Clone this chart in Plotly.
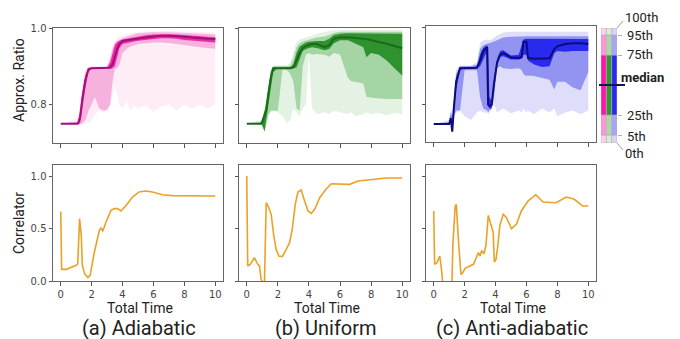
import plotly.graph_objects as go

# ---------------- data ----------------
# (a) Adiabatic percentiles of approximation ratio
T_A = [0, 1.1, 1.25, 1.4, 1.6, 1.8, 2.0, 2.2, 2.5, 2.8, 3.0, 3.2, 3.35, 3.5, 3.65, 3.8, 4.0, 4.25, 4.5, 4.75,
       5.0, 5.5, 6.0, 6.5, 7.0, 7.5, 8.0, 8.5, 9.0, 9.5, 10.0]
A_P0 = [0.75, 0.75, 0.75, 0.75, 0.75, 0.752, 0.76, 0.775, 0.785, 0.78, 0.79, 0.8, 0.82, 0.85, 0.83, 0.80, 0.79,
        0.81, 0.785, 0.80, 0.79, 0.80, 0.78, 0.795, 0.80, 0.785, 0.80, 0.79, 0.80, 0.79, 0.80]
A_P5 = [0.75, 0.75, 0.75, 0.75, 0.76, 0.785, 0.80, 0.82, 0.79, 0.784, 0.786, 0.8, 0.86, 0.893, 0.895, 0.905,
        0.935, 0.945, 0.952, 0.955, 0.958, 0.96, 0.962, 0.962, 0.961, 0.958, 0.955, 0.952, 0.95, 0.948, 0.946]
A_P25 = [0.75, 0.75, 0.75, 0.79, 0.845, 0.885, 0.894, 0.895, 0.895, 0.895, 0.895, 0.895, 0.895, 0.9, 0.925,
         0.948, 0.958, 0.961, 0.963, 0.965, 0.967, 0.969, 0.972, 0.973, 0.973, 0.972, 0.969, 0.967, 0.965, 0.963, 0.962]
A_P50 = [0.75, 0.75, 0.765, 0.815, 0.865, 0.893, 0.895, 0.895, 0.895, 0.895, 0.895, 0.896, 0.905, 0.925, 0.945,
         0.958, 0.966, 0.968, 0.969, 0.970, 0.972, 0.975, 0.978, 0.980, 0.980, 0.979, 0.977, 0.975, 0.973, 0.972, 0.971]
A_P75 = [0.75, 0.752, 0.78, 0.83, 0.877, 0.895, 0.896, 0.896, 0.896, 0.896, 0.897, 0.91, 0.935, 0.955, 0.963,
         0.967, 0.97, 0.972, 0.974, 0.976, 0.978, 0.981, 0.983, 0.984, 0.984, 0.983, 0.981, 0.979, 0.978, 0.977, 0.976]
A_P95 = [0.75, 0.756, 0.79, 0.84, 0.885, 0.897, 0.898, 0.898, 0.898, 0.898, 0.9, 0.92, 0.945, 0.96, 0.966, 0.97,
         0.974, 0.977, 0.981, 0.984, 0.986, 0.988, 0.989, 0.989, 0.989, 0.988, 0.987, 0.986, 0.985, 0.984, 0.983]
A_P100 = [0.75, 0.765, 0.805, 0.85, 0.89, 0.898, 0.9, 0.9, 0.9, 0.9, 0.905, 0.93, 0.955, 0.968, 0.974, 0.978,
          0.981, 0.984, 0.987, 0.989, 0.99, 0.991, 0.992, 0.992, 0.992, 0.991, 0.99, 0.99, 0.989, 0.988, 0.988]

# (b) Uniform
T_B = [0, 0.9, 1.0, 1.1, 1.15, 1.25, 1.4, 1.55, 1.7, 2.0, 2.3, 2.6, 2.8, 3.0, 3.2, 3.4, 3.6, 3.8, 4.0, 4.2, 4.5,
       5.0, 5.3, 5.6, 6.0, 6.5, 6.7, 7.0, 7.5, 7.7, 8.0, 8.5, 9.0, 9.5, 10.0]
B_P0 = [0.75, 0.75, 0.745, 0.735, 0.73, 0.745, 0.77, 0.78, 0.784, 0.78, 0.77, 0.75, 0.76, 0.79, 0.78, 0.77, 0.79,
        0.8, 0.93, 0.79, 0.775, 0.78, 0.775, 0.785, 0.78, 0.775, 0.78, 0.77, 0.775, 0.78, 0.775, 0.778, 0.772,
        0.778, 0.775]
B_P5 = [0.75, 0.75, 0.745, 0.735, 0.73, 0.75, 0.775, 0.784, 0.784, 0.784, 0.893, 0.89, 0.88, 0.86, 0.79, 0.784,
        0.9, 0.93, 0.935, 0.93, 0.932, 0.93, 0.925, 0.935, 0.93, 0.87, 0.862, 0.86, 0.855, 0.82, 0.818, 0.816,
        0.815, 0.815, 0.815]
B_P25 = [0.75, 0.75, 0.745, 0.735, 0.73, 0.76, 0.8, 0.845, 0.885, 0.895, 0.895, 0.895, 0.895, 0.895, 0.897,
         0.92, 0.94, 0.945, 0.948, 0.95, 0.948, 0.942, 0.945, 0.96, 0.968, 0.968, 0.965, 0.96, 0.95, 0.924, 0.935,
         0.93, 0.915, 0.895, 0.876]
B_P50 = [0.75, 0.75, 0.755, 0.765, 0.77, 0.785, 0.83, 0.87, 0.895, 0.895, 0.895, 0.895, 0.895, 0.897, 0.915,
         0.935, 0.947, 0.953, 0.956, 0.958, 0.958, 0.95, 0.955, 0.972, 0.976, 0.976, 0.975, 0.974, 0.972, 0.971,
         0.968, 0.964, 0.959, 0.953, 0.947]
B_P75 = [0.75, 0.752, 0.76, 0.775, 0.78, 0.8, 0.845, 0.885, 0.897, 0.897, 0.897, 0.897, 0.898, 0.905, 0.935,
         0.952, 0.958, 0.962, 0.964, 0.965, 0.966, 0.966, 0.972, 0.982, 0.985, 0.986, 0.986, 0.986, 0.986, 0.986,
         0.986, 0.985, 0.985, 0.985, 0.985]
B_P95 = [0.75, 0.755, 0.765, 0.78, 0.785, 0.81, 0.855, 0.89, 0.9, 0.9, 0.9, 0.9, 0.902, 0.92, 0.95, 0.96, 0.965,
         0.968, 0.97, 0.972, 0.975, 0.978, 0.982, 0.987, 0.99, 0.99, 0.99, 0.99, 0.99, 0.99, 0.99, 0.99, 0.99,
         0.99, 0.99]
B_P100 = [0.75, 0.76, 0.77, 0.785, 0.79, 0.82, 0.865, 0.895, 0.903, 0.903, 0.903, 0.903, 0.91, 0.94, 0.965, 0.97,
          0.972, 0.975, 0.978, 0.98, 0.985, 0.99, 0.992, 0.994, 0.995, 0.995, 0.995, 0.995, 0.995, 0.995, 0.995,
          0.995, 0.995, 0.995, 0.995]

# (c) Anti-adiabatic
T_C = [0, 1.0, 1.1, 1.2, 1.3, 1.45, 1.7, 2.0, 2.4, 2.8, 3.0, 3.2, 3.45, 3.52, 3.6, 3.75, 3.9, 4.1, 4.3, 4.5,
       5.0, 5.5, 5.7, 5.8, 6.0, 6.1, 6.5, 7.0, 7.5, 7.8, 8.0, 8.5, 9.0, 9.5, 10.0]
C_P0 = [0.75, 0.75, 0.75, 0.73, 0.765, 0.78, 0.784, 0.77, 0.76, 0.78, 0.785, 0.78, 0.78, 0.775, 0.78, 0.79, 0.8,
        0.78, 0.785, 0.79, 0.778, 0.785, 0.78, 0.79, 0.78, 0.785, 0.775, 0.79, 0.78, 0.79, 0.77, 0.78, 0.785,
        0.775, 0.785]
C_P5 = [0.75, 0.75, 0.75, 0.73, 0.77, 0.785, 0.785, 0.89, 0.89, 0.89, 0.82, 0.79, 0.785, 0.78, 0.785, 0.79,
        0.82, 0.895, 0.9, 0.895, 0.893, 0.895, 0.89, 0.88, 0.875, 0.876, 0.875, 0.87, 0.865, 0.84, 0.86, 0.86,
        0.845, 0.838, 0.885]
C_P25 = [0.75, 0.75, 0.76, 0.73, 0.78, 0.84, 0.89, 0.895, 0.895, 0.895, 0.9, 0.92, 0.94, 0.797, 0.79, 0.79,
         0.845, 0.905, 0.925, 0.926, 0.918, 0.918, 0.92, 0.93, 0.93, 0.915, 0.905, 0.898, 0.9, 0.935, 0.94,
         0.938, 0.94, 0.94, 0.94]
C_P50 = [0.75, 0.75, 0.765, 0.73, 0.79, 0.86, 0.895, 0.895, 0.895, 0.896, 0.915, 0.94, 0.95, 0.80, 0.797, 0.80,
         0.855, 0.91, 0.93, 0.935, 0.923, 0.922, 0.925, 0.964, 0.964, 0.922, 0.92, 0.92, 0.921, 0.945, 0.952,
         0.958, 0.96, 0.96, 0.958]
C_P75 = [0.75, 0.752, 0.77, 0.75, 0.8, 0.87, 0.896, 0.896, 0.896, 0.9, 0.93, 0.948, 0.955, 0.95, 0.82, 0.81,
         0.87, 0.92, 0.94, 0.942, 0.928, 0.93, 0.96, 0.97, 0.972, 0.972, 0.972, 0.972, 0.972, 0.972, 0.972, 0.972,
         0.971, 0.971, 0.971]
C_P95 = [0.75, 0.755, 0.78, 0.77, 0.81, 0.88, 0.9, 0.9, 0.9, 0.905, 0.945, 0.955, 0.96, 0.96, 0.96, 0.962, 0.965,
         0.968, 0.972, 0.975, 0.977, 0.978, 0.978, 0.978, 0.978, 0.978, 0.978, 0.978, 0.978, 0.978, 0.978, 0.978,
         0.978, 0.978, 0.978]
C_P100 = [0.75, 0.76, 0.785, 0.78, 0.82, 0.89, 0.902, 0.902, 0.902, 0.91, 0.96, 0.968, 0.97, 0.97, 0.968, 0.97,
          0.975, 0.98, 0.985, 0.988, 0.99, 0.99, 0.99, 0.99, 0.99, 0.99, 0.99, 0.99, 0.99, 0.99, 0.99, 0.99, 0.99,
          0.99, 0.99]

# Correlator curves
CT_A = [0, 0.06, 0.36, 1.0, 1.1, 1.22, 1.33, 1.4, 1.54, 1.76, 1.9, 2.18, 2.5, 2.61, 2.72, 2.93, 3.25, 3.47, 3.68,
        3.9, 4.2, 4.65, 5.07, 5.5, 5.93, 6.57, 7.2, 8.5, 10.0]
CV_A = [0.663, 0.111, 0.111, 0.149, 0.165, 0.594, 0.435, 0.149, 0.07, 0.032, 0.054, 0.276, 0.483, 0.505, 0.473,
        0.562, 0.673, 0.689, 0.689, 0.667, 0.714, 0.8, 0.848, 0.857, 0.848, 0.822, 0.813, 0.81, 0.81]
CT_B = [0, 0.06, 0.22, 0.49, 0.71, 0.82, 0.92, 1.03, 1.14, 1.25, 1.42, 1.57, 1.74, 1.89, 2.06, 2.28, 2.49, 2.75,
        2.92, 3.12, 3.29, 3.5, 3.72, 3.94, 4.15, 4.37, 4.69, 5.12, 5.44, 5.76, 6.19, 6.62, 7.16, 8.13, 8.99, 10.0]
CV_B = [1.0, 0.143, 0.159, 0.222, 0.159, 0.143, 0.016, -0.01, -0.01, 0.746, 0.698, 0.635, 0.43, 0.30, 0.238,
        0.232, 0.286, 0.365, 0.49, 0.73, 0.848, 0.867, 0.762, 0.667, 0.644, 0.683, 0.794, 0.879, 0.927, 0.927,
        0.921, 0.921, 0.952, 0.968, 0.981, 0.981]
CT_C = [0, 0.06, 0.21, 0.39, 0.49, 0.58, 1.18, 1.24, 1.39, 1.46, 1.61, 1.76, 1.88, 2.03, 2.57, 2.78, 2.89, 3.0,
        3.1, 3.25, 3.38, 3.53, 3.64, 3.79, 3.85, 3.92, 4.03, 4.15, 4.28, 4.5, 4.71, 5.03, 5.35, 5.67, 6.1, 6.6,
        7.07, 7.92, 8.57, 9.1, 9.64, 10.0]
CV_C = [0.667, 0.159, 0.175, 0.238, 0.127, -0.01, -0.01, 0.349, 0.714, 0.73, 0.365, 0.063, 0.079, 0.121, 0.159,
        0.238, 0.27, 0.238, 0.29, 0.26, 0.34, 0.625, 0.571, 0.483, 0.46, 0.181, 0.206, 0.34, 0.53, 0.635, 0.603,
        0.498, 0.54, 0.667, 0.762, 0.822, 0.752, 0.746, 0.8, 0.778, 0.714, 0.714]

PANEL_TITLES = ["(a) Adiabatic", "(b) Uniform", "(c) Anti-adiabatic"]
LEGEND_LABELS = ["100th", "95th", "75th", "median", "25th", "5th", "0th"]
LEGEND_SEG = [8, 20, 60, 20, 7]          # bottom-to-top segment heights of the key

# ---------------- styling ----------------
W, H = 680, 339
def px(x): return x / W
def py(y): return 1 - y / H

COLS = [
    dict(light="#feecf7", mid="#f7b1dd", dark="#ec2aa6", med="#a1107c",
         k_light="#fbd3ec", k_mid="#ff96d6", k_dark="#ff14ae"),
    dict(light="#e4f2e4", mid="#a5d5a5", dark="#2e922e", med="#1b6a1b",
         k_light="#d8ecd8", k_mid="#acd8ac", k_dark="#2f952f"),
    dict(light="#dedefa", mid="#9393f1", dark="#2a2aee", med="#0c0c7a",
         k_light="#d6d6f8", k_mid="#a6a6f5", k_dark="#2a2aee"),
]
ORANGE = "#e9a227"
XD = [(53, 223), (239, 410), (426, 596)]
TOP = [py(143), py(28)]
TOP_C = [py(142), py(26)]
BOT = [py(281), py(165)]

fig = go.Figure()

def band(xa, ya, t, lo, hi, color):
    fig.add_trace(go.Scatter(x=t, y=lo, mode="lines", line=dict(width=0), xaxis=xa, yaxis=ya,
                             showlegend=False, hoverinfo="skip"))
    fig.add_trace(go.Scatter(x=t, y=hi, mode="lines", line=dict(width=0), fill="tonexty",
                             fillcolor=color, xaxis=xa, yaxis=ya, showlegend=False, hoverinfo="skip"))

panels = [
    (T_A, A_P0, A_P5, A_P25, A_P50, A_P75, A_P95, A_P100),
    (T_B, B_P0, B_P5, B_P25, B_P50, B_P75, B_P95, B_P100),
    (T_C, C_P0, C_P5, C_P25, C_P50, C_P75, C_P95, C_P100),
]
for i, (t, p0, p5, p25, p50, p75, p95, p100) in enumerate(panels):
    xa, ya = f"x{i+1}", f"y{i+1}"
    c = COLS[i]
    band(xa, ya, t, p0, p100, c["light"])
    band(xa, ya, t, p5, p95, c["mid"])
    band(xa, ya, t, p25, p75, c["dark"])
    fig.add_trace(go.Scatter(x=t, y=p50, mode="lines", line=dict(color=c["med"], width=2),
                             xaxis=xa, yaxis=ya, showlegend=False))

for i, (t, v) in enumerate([(CT_A, CV_A), (CT_B, CV_B), (CT_C, CV_C)]):
    fig.add_trace(go.Scatter(x=t, y=v, mode="lines", line=dict(color=ORANGE, width=1.6),
                             xaxis=f"x{i+4}", yaxis=f"y{i+4}", showlegend=False))

# key (colour bar) built from stacked bars
base = 0
for j, h in enumerate(LEGEND_SEG):
    kind = ["k_light", "k_mid", "k_dark", "k_mid", "k_light"][j]
    fig.add_trace(go.Bar(x=[0, 1, 2], y=[h] * 3, base=[base] * 3, width=1,
                         marker=dict(color=[COLS[k][kind] for k in range(3)],
                                     line=dict(color="#b0b0b0", width=0.6)),
                         xaxis="x7", yaxis="y7", showlegend=False, hoverinfo="skip"))
    base += h

tickfont = dict(family="DejaVu Sans", size=10, color="#444")
ax_common = dict(showline=True, mirror=True, linecolor="#666", linewidth=1, ticks="outside",
                 ticklen=3.5, tickwidth=0.8, tickcolor="#555", showgrid=False, zeroline=False,
                 tickfont=tickfont, automargin=False)
layout = dict(width=W, height=H, margin=dict(l=0, r=0, t=0, b=0, pad=0, autoexpand=False),
              plot_bgcolor="white", paper_bgcolor="white", barmode="overlay", showlegend=False,
              font=dict(family="Roboto", color="#222"))
for i in range(3):
    dom = [px(XD[i][0]), px(XD[i][1])]
    # top row
    layout[f"xaxis{i+1}"] = dict(ax_common, domain=dom, anchor=f"y{i+1}", range=[-0.5, 10.5],
                                 tickvals=[0, 2, 4, 6, 8, 10], showticklabels=False)
    layout[f"yaxis{i+1}"] = dict(ax_common, domain=(TOP_C if i == 2 else TOP), anchor=f"x{i+1}",
                                 range=([0.703, 1.005] if i == 2 else [0.7, 1.0]),
                                 tickvals=[0.8, 1.0], ticktext=["0.8", "1.0"], showticklabels=(i == 0))
    # bottom row
    layout[f"xaxis{i+4}"] = dict(ax_common, domain=dom, anchor=f"y{i+4}", range=[-0.5, 10.5],
                                 tickvals=[0, 2, 4, 6, 8, 10])
    layout[f"yaxis{i+4}"] = dict(ax_common, domain=BOT, anchor=f"x{i+4}", range=[0, 1.105],
                                 tickvals=[0, 0.5, 1.0], ticktext=["0.0", "0.5", "1.0"],
                                 showticklabels=(i == 0))
layout["xaxis7"] = dict(domain=[px(601), px(617)], anchor="y7", range=[-0.5, 2.5], visible=False)
layout["yaxis7"] = dict(domain=TOP, anchor="x7", range=[0, sum(LEGEND_SEG)], side="right",
                        showline=False, showgrid=False, zeroline=False, ticks="outside", ticklen=4,
                        tickcolor="#b0b0b0", tickvals=[8, 28, 88, 108], showticklabels=False,
                        automargin=False)

ann = []
ann.append(dict(text="Approx. Ratio", x=px(19), y=py(80), textangle=-90, font=dict(size=14)))
ann.append(dict(text="Correlator", x=px(19), y=py(223), textangle=-90, font=dict(size=14)))
for i in range(3):
    cx = (XD[i][0] + XD[i][1]) / 2 + 2
    ann.append(dict(text="Total Time", x=px(cx), y=py(308), font=dict(size=14)))
    ann.append(dict(text=PANEL_TITLES[i], x=px(cx - 1), y=py(328), font=dict(size=20)))
leg_pos = [(623, 18), (625, 36), (625, 55), (619, 77), (625, 116), (625, 136), (623, 153)]
for lab, (lx, ly) in zip(LEGEND_LABELS, leg_pos):
    txt = f"<b>{lab}</b>" if lab == "median" else lab
    ann.append(dict(text=txt, x=px(lx), y=py(ly), xanchor="left", font=dict(size=13)))
for a in ann:
    a.setdefault("xanchor", "center")
    a.update(xref="paper", yref="paper", yanchor="middle", showarrow=False)
layout["annotations"] = ann

layout["shapes"] = [
    dict(type="line", xref="paper", yref="paper", x0=px(617), y0=py(28), x1=px(623), y1=py(21),
         line=dict(color="#999", width=1)),
    dict(type="line", xref="paper", yref="paper", x0=px(617), y0=py(143), x1=px(623), y1=py(150),
         line=dict(color="#999", width=1)),
    dict(type="line", xref="paper", yref="paper", x0=px(599), y0=py(85), x1=px(625), y1=py(85),
         line=dict(color="#14145a", width=2)),
]

fig.update_layout(**layout)
fig.write_html("out.html")
